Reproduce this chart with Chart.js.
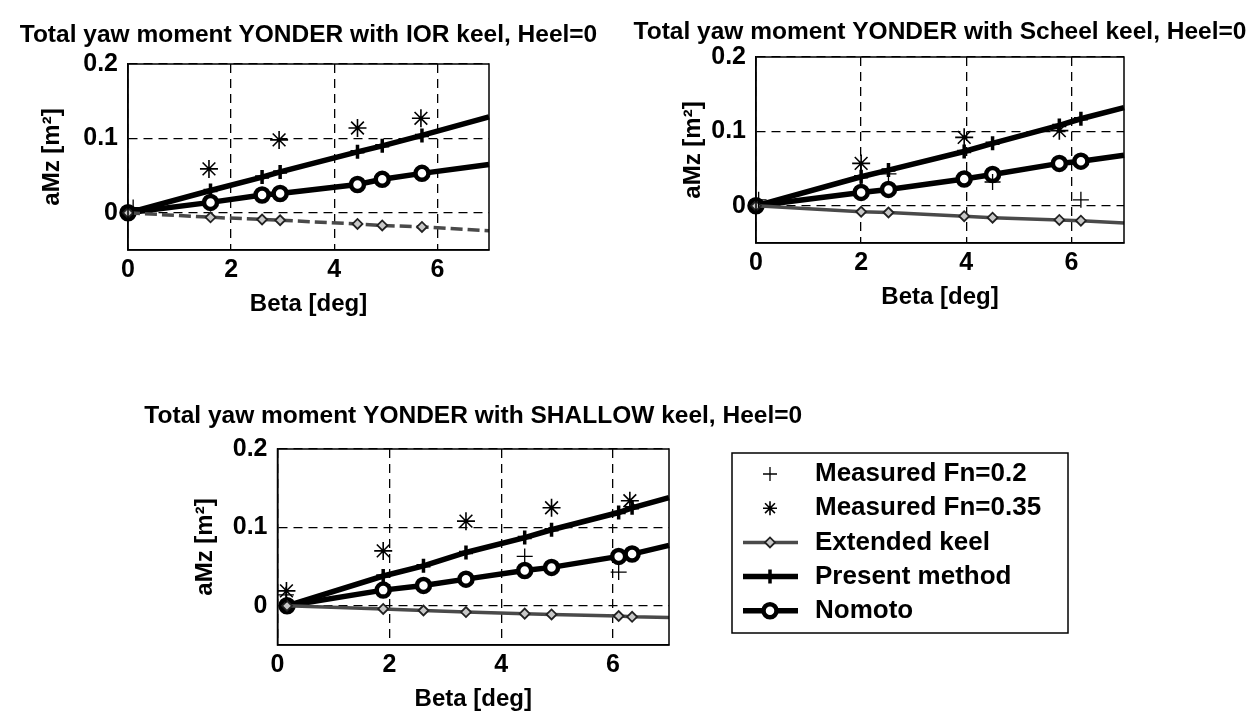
<!DOCTYPE HTML>
<html>

<head>
  <title>Total yaw moment YONDER</title>
  <meta content="width=device-width, initial-scale=1.0" name="viewport">
  <script src="https://cdn.jsdelivr.net/npm/chart.js"></script>
  <style>
    body { margin: 0; background: #fff; }
    .plot { position: absolute; left: 0; top: 0; width: 1257px; height: 719px; }
  </style>
</head>

<body>
  <div class="plot"><canvas id="iorChart"></canvas></div>
  <div class="plot"><canvas id="scheelChart"></canvas></div>
  <div class="plot"><canvas id="shallowChart"></canvas></div>

  <script type="text/javascript">
    // tick positions
    var xTicks = [0, 2, 4, 6];
    var yTicks = [0, 0.1, 0.2];

    // IOR keel
    var betaIOR     = [0, 1.6, 2.6, 2.95, 4.45, 4.93, 5.7, 7];
    var extendedIOR = [0, -0.006, -0.009, -0.010, -0.015, -0.017, -0.019, -0.024];
    var presentIOR  = [0, 0.030, 0.048, 0.055, 0.082, 0.090, 0.104, 0.129];
    var nomotoIOR   = [0, 0.014, 0.024, 0.026, 0.038, 0.045, 0.053, 0.065];
    var fn02BetaIOR = [0.1];
    var fn02IOR     = [0.007];
    var fn35BetaIOR = [1.57, 2.93, 4.45, 5.68];
    var fn35IOR     = [0.059, 0.098, 0.114, 0.127];

    // Scheel keel
    var betaSch     = [0, 2.0, 2.52, 3.96, 4.5, 5.77, 6.18, 7];
    var extendedSch = [0, -0.008, -0.009, -0.014, -0.016, -0.019, -0.020, -0.023];
    var presentSch  = [0, 0.039, 0.048, 0.073, 0.084, 0.108, 0.117, 0.132];
    var nomotoSch   = [0, 0.018, 0.022, 0.036, 0.042, 0.057, 0.060, 0.068];
    var fn02BetaSch = [0.05, 2.52, 4.5, 6.18];
    var fn02Sch     = [0.008, 0.043, 0.032, 0.008];
    var fn35BetaSch = [2.0, 3.96, 5.77];
    var fn35Sch     = [0.057, 0.092, 0.101];

    // SHALLOW keel
    var betaSh      = [0.17, 1.89, 2.61, 3.37, 4.42, 4.90, 6.10, 6.34, 7];
    var extendedSh  = [0, -0.004, -0.006, -0.008, -0.010, -0.011, -0.013, -0.014, -0.015];
    var presentSh   = [0, 0.038, 0.051, 0.068, 0.087, 0.097, 0.119, 0.125, 0.138];
    var nomotoSh    = [0, 0.020, 0.026, 0.034, 0.045, 0.049, 0.063, 0.066, 0.077];
    var fn02BetaSh  = [0.15, 4.42, 6.10];
    var fn02Sh      = [0.014, 0.063, 0.043];
    var fn35BetaSh  = [0.16, 1.89, 3.37, 4.90, 6.30];
    var fn35Sh      = [0.019, 0.070, 0.108, 0.125, 0.134];

    var FONT = 'Liberation Sans';
    var PAGE_W = 1257, PAGE_H = 719;

    function pts(xs, ys) {
      return xs.map(function (x, i) { return { x: x, y: ys[i] }; });
    }

    // no marker on the last point (end of the computed curve)
    function markerUntilEnd(r) {
      return function (ctx) {
        return ctx.dataIndex === ctx.dataset.data.length - 1 ? 0 : r;
      };
    }

    function makeDatasets(beta, ext, pres, nom, b02, m02, b35, m35, dashed) {
      return [
        {
          label: 'Measured Fn=0.2', data: pts(b02, m02), showLine: false,
          pointStyle: 'cross', pointRadius: 8, pointBorderWidth: 1.3,
          borderColor: '#000', backgroundColor: '#000', clip: false
        },
        {
          label: 'Measured Fn=0.35', data: pts(b35, m35), showLine: false,
          pointStyle: 'star', pointRadius: 9, pointBorderWidth: 1.6,
          borderColor: '#000', backgroundColor: '#000', clip: false
        },
        {
          label: 'Extended keel', data: pts(beta, ext), showLine: true,
          borderColor: '#4a4a4a', borderWidth: 3.5, borderDash: dashed ? [12, 5] : [],
          pointStyle: 'rectRot', pointRadius: markerUntilEnd(5), pointBorderWidth: 1.8,
          pointBackgroundColor: '#c8c8c8', pointBorderColor: '#222', clip: false
        },
        {
          label: 'Present method', data: pts(beta, pres), showLine: true,
          borderColor: '#000', borderWidth: 5.5,
          pointStyle: 'cross', pointRadius: markerUntilEnd(7), pointBorderWidth: 3.5,
          pointBackgroundColor: '#000', pointBorderColor: '#000', clip: false
        },
        {
          label: 'Nomoto', data: pts(beta, nom), showLine: true,
          borderColor: '#000', borderWidth: 5.5,
          pointStyle: 'circle', pointRadius: markerUntilEnd(6.5), pointBorderWidth: 4.5,
          pointBackgroundColor: function (ctx) { return ctx.dataIndex === 0 ? '#000' : '#fff'; },
          pointBorderColor: '#000', clip: false
        }
      ];
    }

    // box round the plot area and the title above it
    var framePlugin = {
      id: 'framePlugin',
      afterDraw: function (chart, args, opts) {
        var a = chart.chartArea, c = chart.ctx;
        c.save();
        c.strokeStyle = '#000';
        c.lineWidth = 1.5;
        c.setLineDash([]);
        c.strokeRect(a.left, a.top, a.right - a.left, a.bottom - a.top);
        c.fillStyle = '#000';
        c.font = 'bold 24.5px "' + FONT + '"';
        c.textAlign = 'center';
        c.textBaseline = 'alphabetic';
        c.fillText(opts.text, (a.left + a.right) / 2, opts.baseline);
        c.restore();
      }
    };

    // legend box drawn next to the SHALLOW plot
    var legendBox = { left: 732, top: 453, right: 1068, bottom: 633, firstRow: 474, rowStep: 34.2 };
    var legendPlugin = {
      id: 'legendPlugin',
      afterDraw: function (chart, args, opts) {
        if (!opts.show) return;
        var c = chart.ctx, b = legendBox;
        c.save();
        c.fillStyle = '#fff';
        c.fillRect(b.left, b.top, b.right - b.left, b.bottom - b.top);
        c.strokeStyle = '#000';
        c.lineWidth = 1.5;
        c.strokeRect(b.left, b.top, b.right - b.left, b.bottom - b.top);
        chart.data.datasets.forEach(function (ds, i) {
          var y = b.firstRow + i * b.rowStep;
          if (ds.showLine) {
            c.beginPath();
            c.setLineDash(ds.borderDash || []);
            c.strokeStyle = ds.borderColor;
            c.lineWidth = ds.borderWidth;
            c.moveTo(743, y);
            c.lineTo(798, y);
            c.stroke();
          }
          c.setLineDash([]);
          var probe = { dataIndex: 1, dataset: ds };
          var r = typeof ds.pointRadius === 'function' ? ds.pointRadius(probe) : ds.pointRadius;
          r = Math.min(r, 7);
          var fill = ds.pointBackgroundColor || ds.backgroundColor;
          c.fillStyle = typeof fill === 'function' ? fill(probe) : fill;
          c.strokeStyle = ds.pointBorderColor || ds.borderColor;
          c.lineWidth = ds.pointBorderWidth;
          Chart.helpers.drawPoint(c, { pointStyle: ds.pointStyle, radius: r, borderWidth: ds.pointBorderWidth, rotation: 0 }, 770, y);
          c.fillStyle = '#000';
          c.font = 'bold 26px "' + FONT + '"';
          c.textAlign = 'left';
          c.textBaseline = 'middle';
          c.fillText(ds.label, 815, y);
        });
        c.restore();
      }
    };

    function makeChart(id, area, yLabelX, titleText, titleBaseline, datasets, showLegend) {
      var xh = 66;                         // height of the x axis box
      var yw = area.left - (yLabelX - 12); // width of the y axis box
      return new Chart(document.getElementById(id), {
        type: 'scatter',
        data: { datasets: datasets },
        options: {
          responsive: true,
          maintainAspectRatio: false,
          animation: false,
          layout: {
            padding: {
              left: area.left - yw,
              top: area.top,
              right: PAGE_W - area.right,
              bottom: PAGE_H - area.bottom - xh
            }
          },
          scales: {
            x: {
              type: 'linear', min: 0, max: 7,
              afterBuildTicks: function (s) { s.ticks = xTicks.map(function (v) { return { value: v }; }); },
              afterFit: function (s) { s.height = xh; },
              grid: { color: '#000', lineWidth: 1.3, drawTicks: false },
              border: { display: true, color: '#000', width: 1.5, dash: [9, 6] },
              ticks: { color: '#000', padding: 5, font: { family: FONT, size: 25, weight: 'bold' }, callback: function (v) { return String(v); } },
              title: { display: true, text: 'Beta [deg]', color: '#000', font: { family: FONT, size: 24, weight: 'bold', lineHeight: 1 }, padding: { top: 0, bottom: 0 } }
            },
            y: {
              type: 'linear', min: -0.05, max: 0.2,
              afterBuildTicks: function (s) { s.ticks = yTicks.map(function (v) { return { value: v }; }); },
              afterFit: function (s) { s.width = yw; },
              grid: { color: '#000', lineWidth: 1.3, drawTicks: false },
              border: { display: true, color: '#000', width: 1.5, dash: [9, 6] },
              ticks: { color: '#000', padding: 10, font: { family: FONT, size: 25, weight: 'bold' }, callback: function (v) { return String(v); } },
              title: { display: true, text: 'aMz [m²]', color: '#000', font: { family: FONT, size: 24, weight: 'bold', lineHeight: 1 }, padding: { top: 0, bottom: 0 } }
            }
          },
          plugins: {
            legend: { display: false },
            tooltip: { enabled: false },
            framePlugin: { text: titleText, baseline: titleBaseline },
            legendPlugin: { show: showLegend }
          }
        },
        plugins: [framePlugin, legendPlugin]
      });
    }

    makeChart('iorChart', { left: 128, top: 64, right: 489, bottom: 250 }, 52,
      'Total yaw moment YONDER with IOR keel, Heel=0', 42,
      makeDatasets(betaIOR, extendedIOR, presentIOR, nomotoIOR, fn02BetaIOR, fn02IOR, fn35BetaIOR, fn35IOR, true), false);

    makeChart('scheelChart', { left: 756, top: 57, right: 1124, bottom: 243 }, 693,
      'Total yaw moment YONDER with Scheel keel, Heel=0', 39,
      makeDatasets(betaSch, extendedSch, presentSch, nomotoSch, fn02BetaSch, fn02Sch, fn35BetaSch, fn35Sch, false), false);

    makeChart('shallowChart', { left: 277.5, top: 449, right: 669, bottom: 645 }, 205,
      'Total yaw moment YONDER with SHALLOW keel, Heel=0', 423,
      makeDatasets(betaSh, extendedSh, presentSh, nomotoSh, fn02BetaSh, fn02Sh, fn35BetaSh, fn35Sh, false), true);
  </script>
</body>

</html>
